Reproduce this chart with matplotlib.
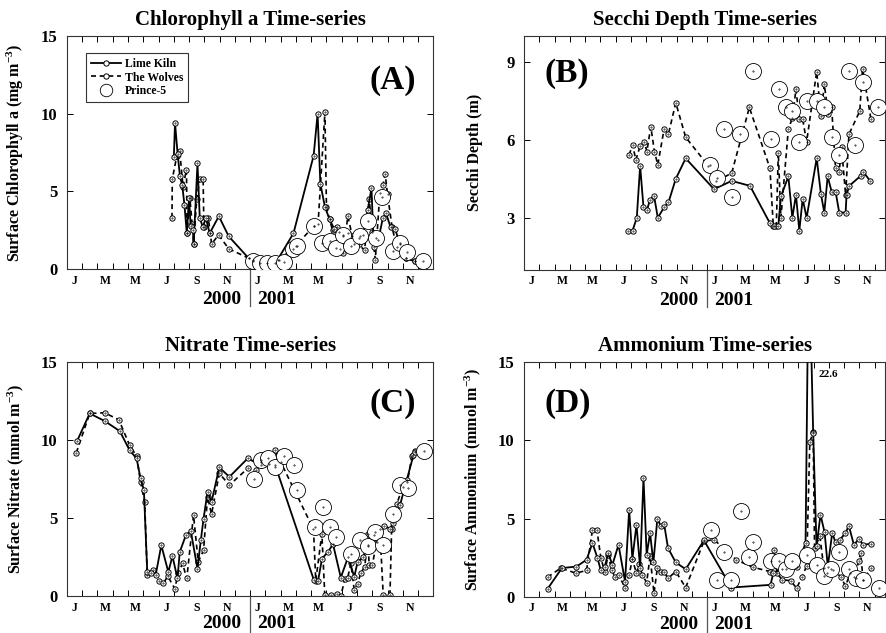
import matplotlib.pyplot as plt
from matplotlib.lines import Line2D

plt.rcParams['font.family'] = 'Liberation Serif'
plt.rcParams['font.weight'] = 'bold'
plt.rcParams['mathtext.fontset'] = 'custom'
plt.rcParams['mathtext.rm'] = 'Liberation Serif:bold'
plt.rcParams['mathtext.default'] = 'rm'

# x values are months since 1 Jan 2000
month_labels = ['J', 'M', 'M', 'J', 'S', 'N'] * 2

# (A) chlorophyll a
chl_lk_m = [7.0, 7.08, 7.25, 7.4, 7.55, 7.7, 7.85, 8.0, 8.1, 8.25, 8.3, 8.55, 8.7, 8.9, 9.1, 9.35, 9.95, 10.6, 11.9, 12.2,
            13.8, 14.84, 16.16, 16.42, 16.6, 16.9, 17.2, 17.5, 17.8, 18.1, 18.4, 18.8, 19.1, 19.4, 19.7, 19.95, 20.1, 20.4,
            20.7, 20.9, 21.2, 21.5, 21.8, 22.2, 22.8]
chl_lk = [7.2, 9.4, 7.4, 6.0, 5.4, 4.1, 2.3, 4.6, 2.8, 2.5, 1.6, 6.8, 3.3, 2.7, 3.3, 2.3, 3.4, 2.1, 0.7, 0.6,
          0.6, 2.3, 7.3, 10.0, 5.5, 4.0, 3.2, 2.6, 2.4, 2.1, 2.3, 1.6, 2.0, 2.2, 3.8, 5.2, 1.4, 1.9,
          3.3, 3.6, 2.7, 2.6, 1.6, 0.7, 0.5]
chl_tw_m = [6.88, 6.9, 7.2, 7.39, 7.6, 7.83, 7.87, 8.05, 8.2, 8.3, 8.5, 8.7, 8.92, 8.97, 9.25, 9.4, 9.47, 9.93, 10.6, 11.9,
            13.9, 15.0, 16.2, 16.45, 16.9, 17.0, 17.2, 17.4, 17.7, 17.9, 18.1, 18.4, 18.7, 19.1, 19.5, 19.8, 20.0, 20.2,
            20.5, 20.7, 20.85, 21.0, 21.3, 21.6, 22.2, 22.8]
chl_tw = [3.3, 5.8, 7.3, 7.6, 5.3, 6.4, 2.3, 4.6, 2.9, 1.6, 4.5, 5.8, 5.8, 2.7, 3.3, 2.3, 1.6, 2.2, 1.3, 0.7,
          0.6, 1.5, 2.8, 2.9, 10.1, 4.0, 3.2, 2.5, 2.7, 1.3, 1.0, 3.4, 2.1, 1.6, 1.2, 4.5, 2.4, 0.6,
          4.9, 5.4, 6.1, 4.8, 2.7, 1.4, 0.7, 0.5]
chl_p5_m = [12.2, 12.65, 13.1, 13.6, 14.19, 14.84, 15.1, 16.2, 16.7, 17.2, 17.63, 18.07, 18.6, 19.23, 19.71, 20.26,
            20.63, 21.36, 21.84, 22.28, 23.33]
chl_p5 = [0.5, 0.4, 0.4, 0.4, 0.47, 1.26, 1.5, 2.8, 1.65, 1.8, 1.33, 2.2, 1.5, 2.1, 3.1, 2.0, 4.66, 1.16, 1.65, 1.1, 0.5]

# (B) secchi depth
sec_lk_m = [6.84, 7.11, 7.39, 7.61, 7.83, 8.05, 8.26, 8.53, 8.77, 9.18, 9.47, 9.95, 10.6, 12.46, 13.62, 14.82, 16.13,
            16.4, 16.68, 16.85, 17.34, 17.6, 17.84, 18.06, 18.28, 18.54, 19.2, 19.48, 19.7, 19.92, 20.18, 20.44, 20.68,
            21.1, 21.16, 21.34, 22.1, 22.25, 22.73]
sec_lk = [2.5, 2.5, 3.0, 5.0, 3.4, 3.28, 3.7, 3.82, 3.0, 3.4, 3.59, 4.5, 5.29, 4.1, 4.42, 4.23, 2.79,
          2.69, 2.69, 3.82, 4.59, 3.0, 3.88, 2.5, 3.73, 3.0, 5.29, 3.91, 3.2, 4.59, 4.01, 4.01, 3.2,
          3.2, 3.88, 4.23, 4.62, 4.78, 4.4]
sec_tw_m = [6.89, 7.11, 7.33, 7.61, 7.89, 8.05, 8.31, 8.55, 8.77, 9.18, 9.47, 9.95, 10.6, 12.09, 12.6, 13.62, 14.78,
            16.13, 16.35, 16.55, 16.68, 16.85, 17.34, 17.6, 17.84, 18.06, 18.28, 18.54, 19.2, 19.48, 19.7, 19.96,
            20.18, 20.44, 20.68, 20.83, 21.1, 21.32, 22.03, 22.21, 22.76]
sec_tw = [5.42, 5.81, 5.23, 5.77, 5.93, 5.55, 6.51, 5.55, 5.04, 6.41, 6.23, 7.43, 6.1, 5.0, 4.4, 4.72, 7.25,
          4.91, 2.7, 2.7, 5.51, 3.0, 6.42, 6.83, 7.95, 6.79, 6.79, 5.93, 8.63, 6.92, 8.14, 6.99,
          7.25, 4.91, 4.78, 5.72, 3.88, 6.22, 7.11, 8.75, 6.81]
sec_p5_m = [12.2, 12.64, 13.14, 13.62, 14.17, 15.04, 16.2, 16.74, 17.16, 17.6, 18.06, 18.58, 19.2, 19.7, 20.18, 20.68,
            21.31, 21.71, 22.25, 23.24]
sec_p5 = [5.04, 4.55, 6.42, 3.79, 6.23, 8.65, 6.02, 7.95, 7.25, 7.11, 5.93, 7.51, 7.51, 7.25, 6.13, 5.42,
          8.65, 5.81, 8.24, 7.25]

# (C) nitrate
no3_lk_m = [0.66, 1.49, 2.48, 3.46, 4.1, 4.56, 4.82, 5.04, 5.26, 5.53, 5.81, 6.18, 6.64, 6.91, 7.24, 7.39, 7.79, 8.11,
            8.55, 8.77, 8.95, 9.21, 9.47, 9.98, 10.64, 11.84, 12.72, 13.64, 16.18, 16.45, 16.71, 17.1, 17.43, 17.94,
            18.42, 18.82, 19.04, 19.41, 19.69, 20.13, 20.79, 21.16, 21.38, 21.82, 22.26, 22.7, 22.81]
no3_lk = [9.94, 11.71, 11.22, 10.58, 9.36, 8.83, 7.55, 6.8, 1.56, 1.46, 1.35, 3.27, 1.56, 2.57, 1.14, 2.84, 3.91, 4.19,
          1.77, 3.59, 4.98, 6.69, 6.05, 8.25, 7.65, 8.83, 8.4, 8.4, 1.03, 0.99, 2.42, 2.84, 3.34, 1.2,
          2.52, 1.24, 2.2, 2.52, 3.27, 3.91, 4.49, 4.34, 4.7, 5.84, 7.44, 9.04, 9.25]
no3_tw_m = [0.61, 1.49, 2.48, 3.4, 4.1, 4.56, 4.82, 5.09, 5.26, 5.66, 6.03, 6.32, 6.6, 7.06, 7.3, 7.57, 7.85, 8.29,
            8.6, 8.95, 9.21, 9.47, 9.98, 10.64, 11.84, 12.39, 12.72, 13.25, 13.6, 14.0, 16.15, 16.3, 16.7, 16.89,
            17.3, 17.7, 17.94, 18.2, 18.38, 18.6, 18.82, 19.04, 19.25, 19.52, 19.69, 19.8, 20.0, 20.3, 20.5, 20.72,
            21.16, 21.27, 21.6, 22.0, 22.3, 22.6, 22.8]
no3_tw = [9.19, 11.71, 11.75, 11.3, 9.68, 8.98, 7.33, 6.05, 1.35, 1.67, 0.99, 0.82, 1.3, 0.49, 1.5, 2.1, 1.14, 5.19,
          2.2, 2.95, 6.37, 5.26, 7.87, 7.12, 8.19, 8.08, 8.6, 8.5, 9.36, 8.6, 4.3, 1.0, 4.0, 0.1,
          0.07, 0.13, 0.0, 1.1, 1.14, 2.1, 0.4, 0.8, 1.5, 1.9, 4.0, 2.0, 2.0, 3.5, 4.3, 0.07,
          0.07, 4.34, 5.9, 7.0, 7.3, 9.0, 9.3]
no3_p5_m = [12.24, 12.68, 13.16, 13.6, 14.21, 14.85, 15.07, 16.23, 16.78, 17.21, 17.61, 18.6, 19.23, 19.74, 20.18,
            20.72, 21.38, 21.82, 22.32, 23.36]
no3_p5 = [7.48, 8.72, 8.83, 8.29, 8.98, 8.4, 6.8, 4.45, 5.73, 4.45, 3.81, 2.7, 3.59, 3.21, 4.13, 3.27, 5.24, 7.12,
          6.95, 9.3]

# (D) ammonium
nh4_lk_m = [1.53, 2.47, 3.43, 4.09, 4.48, 4.81, 5.03, 5.29, 5.51, 5.79, 6.19, 6.62, 6.89, 7.1, 7.37, 7.61, 7.83, 8.04,
            8.26, 8.48, 8.74, 8.96, 9.18, 9.44, 9.95, 10.6, 11.8, 13.6, 16.17, 16.35, 16.9, 17.9, 18.47, 18.68,
            18.97, 19.19, 19.45, 19.72, 19.93, 20.22, 20.44, 20.72, 21.09, 21.31, 21.64, 21.97, 22.25, 22.78]
nh4_lk = [0.51, 1.84, 1.94, 2.37, 3.44, 2.48, 1.69, 1.94, 2.8, 2.05, 3.33, 0.98, 5.57, 2.43, 4.61, 1.84, 7.6, 2.69,
          4.08, 2.2, 4.98, 4.55, 4.68, 3.12, 2.2, 1.77, 3.61, 0.6, 0.77, 1.52, 1.8, 1.9, 3.44, 22.6,
          10.5, 3.23, 5.25, 4.12, 1.94, 4.08, 3.48, 3.65, 4.08, 4.55, 3.33, 3.7, 3.33, 3.4]
nh4_tw_m = [1.53, 2.4, 3.39, 4.09, 4.48, 4.77, 5.03, 5.29, 5.51, 5.75, 5.95, 6.19, 6.62, 6.89, 7.1, 7.37, 7.54, 7.75,
            8.04, 8.26, 8.52, 8.74, 8.96, 9.18, 9.44, 9.95, 10.6, 11.8, 12.46, 13.92, 15.0, 16.13, 16.39, 16.6,
            16.94, 17.49, 17.88, 18.25, 18.54, 18.75, 18.97, 19.06, 19.41, 19.67, 19.9, 20.3, 20.77, 21.09, 21.4,
            21.64, 21.97, 22.08, 22.25, 22.78]
nh4_tw = [1.26, 1.84, 1.52, 1.69, 4.29, 4.29, 2.5, 1.6, 2.69, 1.7, 1.3, 1.4, 0.6, 1.41, 2.41, 1.5, 2.12, 1.4,
          0.92, 2.6, 0.23, 1.84, 1.62, 1.6, 1.19, 1.62, 0.6, 3.55, 3.66, 2.37, 1.9, 1.62, 3.01, 1.5,
          1.09, 1.04, 0.56, 1.3, 1.98, 9.89, 10.53, 3.12, 3.87, 1.84, 1.5, 1.7, 1.3, 0.7, 1.5,
          1.3, 2.27, 2.8, 1.09, 1.84]
nh4_p5_m = [12.24, 12.68, 13.11, 13.6, 14.21, 14.75, 15.04, 16.17, 16.72, 17.16, 17.6, 18.58, 19.19, 19.67, 20.15,
            20.66, 21.31, 21.75, 22.25, 23.28]
nh4_p5 = [4.25, 1.09, 2.9, 1.09, 5.47, 2.54, 3.48, 2.27, 2.27, 1.77, 2.27, 2.69, 2.05, 1.34, 1.77, 2.9, 1.77, 1.19,
          1.09, 0.55]

fig = plt.figure(figsize=(8.87, 6.33), dpi=100)
axA = fig.add_axes([0.0755, 0.575, 0.413, 0.368])
axB = fig.add_axes([0.591, 0.574, 0.407, 0.369])
axC = fig.add_axes([0.0755, 0.058, 0.413, 0.370])
axD = fig.add_axes([0.591, 0.057, 0.407, 0.371])

small = dict(marker='o', ms=3.8, mfc='white', mec='black', mew=0.7)


def draw(ax, lk_m, lk, tw_m, tw, p5_m, p5):
    ax.plot(lk_m, lk, color='black', lw=1.3, zorder=3, **small)
    ax.plot(tw_m, tw, color='black', lw=1.2, dashes=(3, 2.2), zorder=2, **small)
    ax.plot(p5_m, p5, ls='none', marker='o', ms=11.5, mfc='white', mec='black', mew=0.6, zorder=4)
    for xs, ys in [(lk_m, lk), (tw_m, tw), (p5_m, p5)]:
        ax.plot(xs, ys, ls='none', marker='.', ms=0.8, color='black', zorder=5)


def style(ax, title, ylabel, ylim, yticks, xmax, panel, px, py, lab_x, year_y):
    ax.set_xlim(0, xmax)
    ax.set_ylim(*ylim)
    ax.set_yticks(yticks)
    ax.set_yticklabels([str(t) for t in yticks], fontsize=12)
    ax.set_xticks([m + 0.5 for m in range(0, 24, 2)])
    ax.set_xticklabels(month_labels, fontsize=8.5)
    ax.set_xticks(range(0, 24), minor=True)
    ax.tick_params(axis='x', which='major', length=0, pad=4)
    ax.tick_params(axis='x', which='minor', direction='in', length=4, top=True, bottom=True, width=0.7)
    ax.tick_params(axis='y', direction='in', length=4, left=True, right=True, pad=7, width=0.7)
    for s in ax.spines.values():
        s.set_linewidth(0.8)
        s.set_color('#333333')
    ax.set_title(title, fontsize=15, fontweight='bold', pad=8)
    ax.set_ylabel(ylabel, fontsize=11.5, fontweight='bold')
    ax.yaxis.set_label_coords(lab_x, 0.5)
    ax.text(px, py, panel, transform=ax.transAxes, fontsize=24, fontweight='bold', ha='center', va='center')
    tr = ax.get_xaxis_transform()
    ax.plot([12, 12], [0, -0.16], transform=tr, color='#555555', lw=0.9, clip_on=False)
    ax.text(11.4, year_y, '2000', transform=tr, ha='right', va='center', fontsize=14, fontweight='bold')
    ax.text(12.45, year_y, '2001', transform=tr, ha='left', va='center', fontsize=14, fontweight='bold')


draw(axA, chl_lk_m, chl_lk, chl_tw_m, chl_tw, chl_p5_m, chl_p5)
style(axA, 'Chlorophyll a Time-series', 'Surface Chlorophyll a (mg m$^{-3}$)', (0, 15), [0, 5, 10, 15], 24,
      '(A)', 0.888, 0.81, -0.112, -0.13)

draw(axB, sec_lk_m, sec_lk, sec_tw_m, sec_tw, sec_p5_m, sec_p5)
style(axB, 'Secchi Depth Time-series', 'Secchi Depth (m)', (1, 10), [3, 6, 9], 23.7, '(B)', 0.118, 0.84,
      -0.114, -0.13)

draw(axC, no3_lk_m, no3_lk, no3_tw_m, no3_tw, no3_p5_m, no3_p5)
style(axC, 'Nitrate Time-series', 'Surface Nitrate (mmol m$^{-3}$)', (0, 15), [0, 5, 10, 15], 24,
      '(C)', 0.888, 0.825, -0.112, -0.118)

draw(axD, nh4_lk_m, nh4_lk, nh4_tw_m, nh4_tw, nh4_p5_m, nh4_p5)
style(axD, 'Ammonium Time-series', 'Surface Ammonium (mmol m$^{-3}$)', (0, 15), [0, 5, 10, 15], 23.7,
      '(D)', 0.12, 0.825, -0.114, -0.118)
axD.text(19.32, 14.2, '22.6', fontsize=8, fontweight='bold', ha='left', va='center')

handles = [
    Line2D([], [], color='black', lw=1.3, **small),
    Line2D([], [], color='black', lw=1.2, dashes=(3, 2.2), **small),
    Line2D([], [], ls='none', marker='o', ms=9, mfc='white', mec='black', mew=0.6),
]
leg = axA.legend(handles, ['Lime Kiln', 'The Wolves', 'Prince-5'], loc='upper left',
                 bbox_to_anchor=(0.052, 0.927), borderaxespad=0, fancybox=False, framealpha=1,
                 edgecolor='#333333', fontsize=8.5, handlelength=2.6, labelspacing=0.15,
                 borderpad=0.4, handletextpad=0.3)
leg.get_frame().set_linewidth(0.8)

fig.savefig('out.png', dpi=100)
